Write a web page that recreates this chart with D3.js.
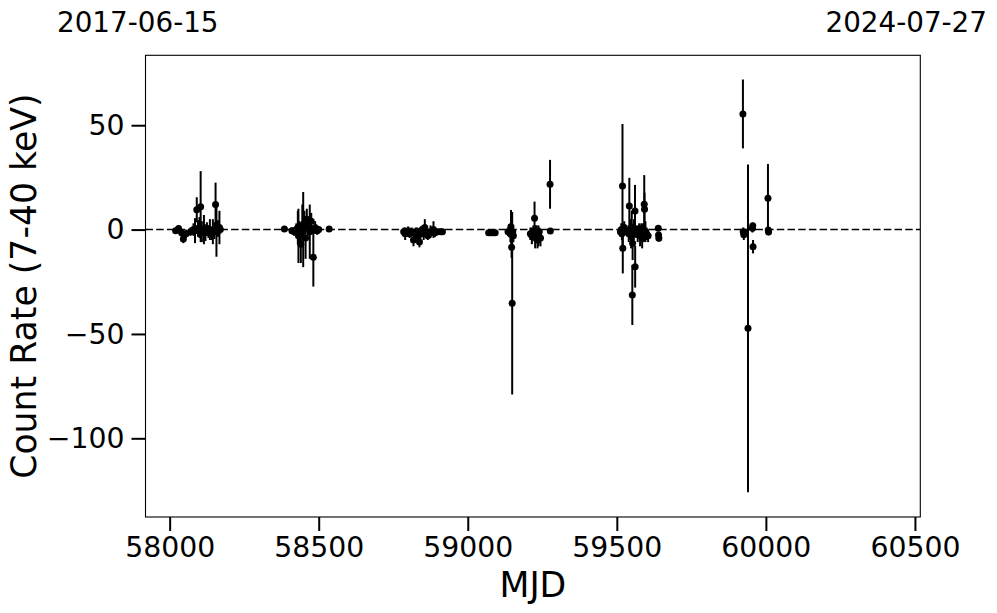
<!DOCTYPE html>
<html><head><meta charset="utf-8">
<script src="https://cdn.jsdelivr.net/npm/d3@7"></script>
<style>body{margin:0;background:#fff}svg{display:block}text{font-family:"DejaVu Sans",sans-serif}</style>
</head><body>
<script>
const mjd = [
 58020,58030,58040,58046,58055,58070,58080,58085,58091,58095,58100,58104,58108,58115,58120,58125,58130,58135,58140,58145,58150,58154,58157,58162,58167,58170,
 58385,58410,58418,58425,58430,58432,58436,58440,58445,58448,58452,58456,58460,58465,58470,58475,58482,58488,58495,58500,58535,
 58785,58790,58795,58800,58805,58812,58818,58825,58830,58835,58838,58843,58848,58852,58856,58860,58866,58870,58875,58880,58885,58890,58900,58910,58915,
 59070,59078,59085,59092,
 59135,59140,59143,59145,59147,59149,59151,59153,
 59210,59215,59220,59224,59226,59228,59231,59234,59237,59240,59244,59276,59277,
 59512,59515,59517,59519,59520,59525,59535,59540,59542,59545,59548,59550,59552,59553,59555,59557,59561,59561.5,59565,59570,59575,59578,59582,59585,59588,59590,59592,59593,59596,59600,59605,59639,59640,59641,
 59923,59924,59926,59929,59940,59955,59956,59957,60007,60008,60009
];
const rate = [
 -0.5,0.5,-1.5,-4.5,-2,-1,0,-0.5,9.5,0.5,1,11,-1,0,-1.5,0.5,-1,0,-2,-1,-0.5,12,-1,0.5,1,0,
 0.3,-0.5,-1,0,1,-3,-2,-7,2,0,3,-4,5,1,-1,4,-13.3,1,-0.5,0,0.3,
 -1,-2,-1.5,-0.5,-2,-1,-5,-2,-1,-3,-6,-0.5,0,-2,1,-1,-3,-2,-1,-1,0,-1.5,-1,-1,-1,
 -1.5,-1.5,-1.5,-1.5,
 -1,-0.7,-2,1.4,-8.5,-35.3,-1,-3,
 -2,-3,-1,5.4,-4,-2,-1,-5,-3,-1,-4,21.7,-0.7,
 -1,0,-2,20.9,-9,1,-1,-2,11.3,0,-3,1,-31.3,-6.6,-2,0,8.9,-17.8,-1,-2,0,-3,-1,-4,0,-2,12.1,9.7,-1,-2,-3,0.6,-2.6,-4.2,
 55.4,-1,-2.5,-1.6,-47.3,0.6,1.8,-8.2,15,-0.2,-1.2
];
const err = [
 1,1.5,2,2,2,2,3,6,6,4,5,17,5,7,4,3,3,5,3,6,4,10.5,12,4,8,2,
 1,1.5,2,3,8,13,6,9,10,18,6,10,5,4,13,4,14,3,2,1.5,1,
 2,3,2,2,2,2,3,3,2,3,2.5,2,2,3,4,2,2,2,3,2,4,2,1,1,1,
 1,1,1,1,
 2,3,4,8,5,43.7,3,3,
 3,4,3,8,5,4,3,4,5,2,4,11.7,1,
 2,3,3,29.7,12,3,2,4,13.5,5,6,8,14.4,8,4,5,12.5,10,3,4,3,5,4,5,3,4,14,8,5,3,3,1,1.5,1.5,
 16.5,2,2.5,2,78.5,2,1.5,3.2,16.4,1.5,1.5
];
const xTicks = [58000,58500,59000,59500,60000,60500];
const yTicks = [50,0,-50,-100];
const dateLabels = ["2017-06-15","2024-07-27"];

const W=997,H=613;
const m={l:145.5,r:920.3,t:55.3,b:517};
const svg=d3.select("body").append("svg").attr("width",W).attr("height",H);
const x=d3.scaleLinear().domain([57919,60518]).range([m.l,m.r]);
const y=d3.scaleLinear().domain([83.5,-137.7]).range([m.t,m.b]);

// zero line
svg.append("line").attr("x1",m.l).attr("x2",m.r).attr("y1",y(0)).attr("y2",y(0))
  .attr("stroke","#000").attr("stroke-width",1.5).attr("stroke-dasharray","7.5,3.2");

const data=mjd.map((d,i)=>({x:d,y:rate[i],e:err[i]}));
svg.append("g").selectAll("line").data(data).join("line")
  .attr("x1",d=>x(d.x)).attr("x2",d=>x(d.x))
  .attr("y1",d=>y(d.y+d.e)).attr("y2",d=>y(d.y-d.e))
  .attr("stroke","#000").attr("stroke-width",2);
svg.append("g").selectAll("circle").data(data).join("circle")
  .attr("cx",d=>x(d.x)).attr("cy",d=>y(d.y)).attr("r",3.5).attr("fill","#000");

// axes
const xa=svg.append("g").attr("transform",`translate(0,${m.b})`)
  .call(d3.axisBottom(x).tickValues(xTicks).tickFormat(d3.format("d")).tickSize(14).tickPadding(6));
const ya=svg.append("g").attr("transform",`translate(${m.l},0)`)
  .call(d3.axisLeft(y).tickValues(yTicks).tickFormat(d=>d<0?"\u2212"+Math.abs(d):d).tickSize(14).tickPadding(7));
[xa,ya].forEach(a=>{a.select(".domain").remove();
  a.selectAll(".tick line").attr("stroke","#000").attr("stroke-width",2);
  a.selectAll(".tick text").attr("fill","#000").style("font-size","28.3px").style("font-family","DejaVu Sans");});

svg.append("rect").attr("x",m.l).attr("y",m.t).attr("width",m.r-m.l).attr("height",m.b-m.t)
  .attr("fill","none").attr("stroke","#000").attr("stroke-width",1.1);

svg.append("text").attr("x",(m.l+m.r)/2).attr("y",597).attr("text-anchor","middle")
  .style("font-size","34.7px").text("MJD");
svg.append("text").attr("transform",`translate(36,${(m.t+m.b)/2}) rotate(-90)`).attr("text-anchor","middle")
  .style("font-size","34.7px").text("Count Rate (7-40 keV)");
svg.append("text").attr("x",57).attr("y",32).style("font-size","27.8px").text(dateLabels[0]);
svg.append("text").attr("x",987).attr("y",32).attr("text-anchor","end").style("font-size","27.8px").text(dateLabels[1]);
</script>
</body></html>
